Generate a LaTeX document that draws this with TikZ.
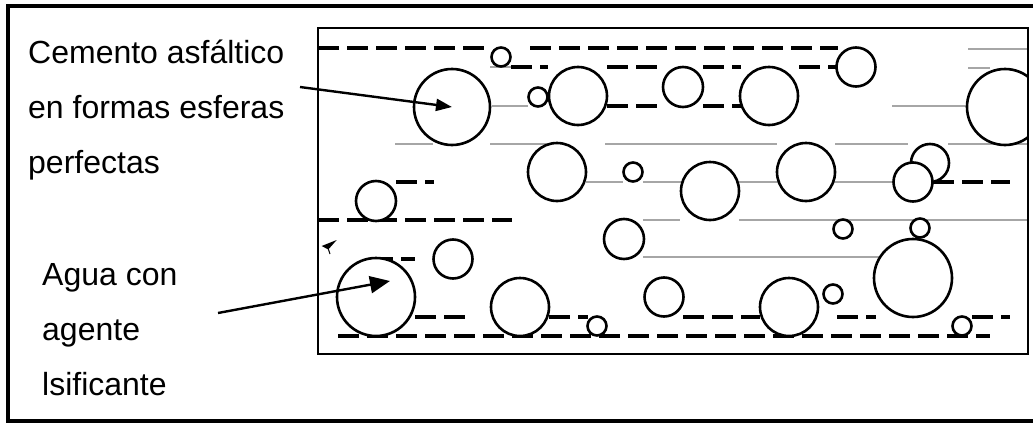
\documentclass[tikz,border=0pt]{standalone}
\usepackage{fontspec}
\setmainfont{Liberation Sans}
\usetikzlibrary{arrows.meta}
\begin{document}
\begin{tikzpicture}[x=1pt,y=-1pt,
  ball/.style={circle, draw, line width=2.6pt, fill=white, inner sep=0pt, outer sep=0pt},
  dashrow/.style={line width=3.2pt, dash pattern=on 21pt off 8pt},
  grayrow/.style={line width=1.2pt, draw=black!35},
  lbl/.style={font=\fontsize{32}{36}\selectfont, inner sep=0pt, anchor=base west},
  arr/.style={line width=2.4pt, -{Triangle[length=16pt,width=12pt]}}]
\useasboundingbox (0,0) rectangle (1033,423);
\fill[white] (0,0) rectangle (1033,423);
% outer frame (open on the right)
\draw[line width=4.5pt] (1040,6) -- (8,6) -- (8,421) -- (1040,421);
% gray lines
\begin{scope}
\foreach \y/\a/\b in {67/490/511, 106/492/528, 144/395/433, 144/490/552, 144/605/777,
  144/835/908, 144/948/1028, 49/968/1028, 68/968/990, 106/892/968,
  182/586/623, 182/643/894, 220/643/680, 220/739/1027, 257/643/880}
  \draw[grayrow] (\a,\y) -- (\b,\y);
\end{scope}
% dashed lines
\foreach \y/\a/\b in {48/318/488, 48/530/838, 67/511/548, 67/607/660, 67/703/741, 67/799/837,
  106/607/660, 106/703/742, 182/396/434, 182/933/1010, 220/318/512, 259/372/415,
  317/415/466, 317/549/588, 317/683/760, 317/837/876, 317/972/1010, 336/338/990}
  \draw[dashrow] (\a,\y) -- (\b,\y);
% circles
\begin{scope}
\clip (318,28) rectangle (1028,354);
\foreach \n/\x/\y/\r in {1/501/57/9.5, 2/452/107/38, 3/538/97/9.5, 4/578/96/29, 5/683/87/20,
  6/769/96/29, 7/856/67/19.5, 8/1005/107/38, 9/557/172/29, 10/633/172/9.5,
  11/710/191/29, 12/806/172/29, 13/930/163/19, 14/913/182/19.5, 15/376/201/20,
  16/624/239/20, 17/843/229/9.5, 18/920/228/9.5, 19/913/278/39, 20/453/259/19.5,
  21/376/297/39, 22/520/307/29, 23/597/326/9.5, 24/664/297/19.5, 25/789/307/29,
  26/833/294/9.5, 27/962/326/9.5}
  \node[ball, minimum size=2*\r] (c\n) at (\x,\y) {};
\end{scope}
% inner box
\draw[line width=2.8pt] (318,28) rectangle (1028,354);
% small arrowhead fragment
\fill (321.7,246) -- (336.7,240) -- (328.3,249.5) -- cycle;
\draw[line width=1pt] (328.3,249) -- (330,254);
% labels
\node[lbl] (t1) at (28,63) {Cemento asfáltico};
\node[lbl] (t2) at (28,118) {en formas esferas};
\node[lbl] (t3) at (28,173) {perfectas};
\node[lbl] (t4) at (42,285) {Agua con};
\node[lbl] (t5) at (42,340) {agente};
\node[lbl] (t6) at (42,395) {lsificante};
% arrows
\coordinate (a1s) at (300,87);
\coordinate (a2s) at (218,313);
\coordinate (a2e) at (390,281);
\draw[arr] (a1s) -- (c2.center);
\draw[line width=2.4pt, -{Triangle[length=20pt,width=17pt]}] (a2s) -- (a2e);
\end{tikzpicture}
\end{document}
